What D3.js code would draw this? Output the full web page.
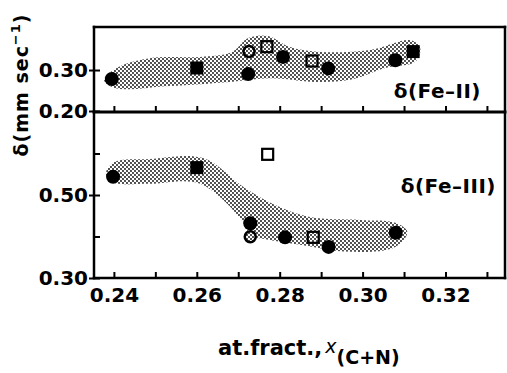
<!DOCTYPE html>
<html>
<head>
<meta charset="utf-8">
<script src="https://cdn.jsdelivr.net/npm/d3@7"></script>
<style>
  html, body { margin: 0; padding: 0; background: #fff; }
  svg { display: block; }
  text { font-family: "DejaVu Sans", sans-serif; font-weight: bold; fill: #000; }
</style>
</head>
<body>
<svg id="chart" width="507" height="373"></svg>
<script>
// Isomer shift of Fe(II) and Fe(III) sites versus interstitial fraction x(C+N)

// x-axis ticks
const xTicks = [0.24, 0.25, 0.26, 0.27, 0.28, 0.29, 0.30, 0.31, 0.32, 0.33];
const xLabelTicks = [0.24, 0.26, 0.28, 0.30, 0.32];

// y-axis ticks per panel
const feIIYTicks = [0.20, 0.30];
const feIIYLabels = [0.20, 0.30];
const feIIIYTicks = [0.30, 0.40, 0.50, 0.60];
const feIIIYLabels = [0.30, 0.50];

// δ(Fe-II) points: composition, shift (mm/s), marker kind
const feIIX = [0.2395, 0.2600, 0.2724, 0.2726, 0.2769, 0.2808, 0.2878, 0.2917, 0.3079, 0.3122];
const feIIY = [0.278, 0.305, 0.290, 0.345, 0.357, 0.332, 0.322, 0.304, 0.324, 0.345];
const feIIKind = ["circle", "square", "circle", "dotCircle", "dotSquare", "circle", "dotSquare", "circle", "circle", "square"];

// δ(Fe-III) points
const feIIIX = [0.2398, 0.2600, 0.2771, 0.2729, 0.2813, 0.2881, 0.2918, 0.3080, 0.2729];
const feIIIY = [0.544, 0.566, 0.598, 0.3995, 0.398, 0.398, 0.375, 0.409, 0.432];
const feIIIKind = ["circle", "square", "openSquare", "dotCircle", "circle", "dotSquare", "circle", "circle", "circle"];

// Shaded trend bands (outline in data units)
const feIIBandX = [0.2376, 0.2410, 0.2487, 0.2608, 0.2685, 0.2724, 0.2772, 0.2825, 0.2898, 0.3018, 0.3115, 0.3139, 0.3127, 0.3055, 0.2970, 0.2886, 0.2777, 0.2680, 0.2535, 0.2402];
const feIIBandY = [0.276, 0.307, 0.329, 0.332, 0.344, 0.378, 0.383, 0.356, 0.344, 0.349, 0.373, 0.354, 0.320, 0.305, 0.276, 0.271, 0.280, 0.271, 0.261, 0.256];

const feIIIBandX = [0.2381, 0.2402, 0.2487, 0.2615, 0.2716, 0.2789, 0.2873, 0.2994, 0.3079, 0.3108, 0.3079, 0.2970, 0.2849, 0.2772, 0.2729, 0.2712, 0.2608, 0.2487, 0.2410, 0.2386];
const feIIIBandY = [0.555, 0.580, 0.587, 0.589, 0.517, 0.476, 0.447, 0.440, 0.433, 0.411, 0.375, 0.363, 0.380, 0.392, 0.404, 0.435, 0.527, 0.527, 0.527, 0.536];

const svg = d3.select("#chart");

const plotLeft = 94, plotRight = 506, plotTop = 27, plotMid = 112, plotBottom = 278;

const x = d3.scaleLinear().domain([0.2352, 0.3346]).range([plotLeft, plotRight]);
const yII = d3.scaleLinear().domain([0.20, 0.405]).range([plotMid - 1, plotTop]);
const yIII = d3.scaleLinear().domain([0.30, 0.70]).range([plotBottom, plotMid]);

// stipple pattern
const defs = svg.append("defs");
const pat = defs.append("pattern")
  .attr("id", "stipple").attr("patternUnits", "userSpaceOnUse")
  .attr("width", 4).attr("height", 4);
pat.append("circle").attr("cx", 1).attr("cy", 1).attr("r", 0.9).attr("fill", "#000");
pat.append("circle").attr("cx", 3).attr("cy", 3).attr("r", 0.9).attr("fill", "#000");

function drawBand(bx, by, yScale) {
  const pts = bx.map((v, i) => [x(v), yScale(by[i])]);
  svg.append("path")
    .attr("d", d3.line().curve(d3.curveCatmullRomClosed.alpha(0.5))(pts))
    .attr("fill", "url(#stipple)")
    .attr("stroke", "none");
}

drawBand(feIIBandX, feIIBandY, yII);
drawBand(feIIIBandX, feIIIBandY, yIII);

function drawPoints(px, py, kinds, yScale) {
  const g = svg.append("g");
  px.forEach((v, i) => {
    const cx = x(v), cy = yScale(py[i]);
    const k = kinds[i];
    if (k === "circle") {
      g.append("circle").attr("cx", cx).attr("cy", cy).attr("r", 7).attr("fill", "#000");
    } else if (k === "square") {
      g.append("rect").attr("x", cx - 6.5).attr("y", cy - 6.5).attr("width", 13).attr("height", 13).attr("fill", "#000");
    } else if (k === "openSquare") {
      g.append("rect").attr("x", cx - 5.5).attr("y", cy - 5.5).attr("width", 11).attr("height", 11)
        .attr("fill", "#fff").attr("stroke", "#000").attr("stroke-width", 2.2);
    } else if (k === "dotSquare") {
      g.append("rect").attr("x", cx - 5.5).attr("y", cy - 5.5).attr("width", 11).attr("height", 11)
        .attr("fill", "#fff").attr("stroke", "none");
      g.append("rect").attr("x", cx - 5.5).attr("y", cy - 5.5).attr("width", 11).attr("height", 11)
        .attr("fill", "url(#stipple)").attr("stroke", "#000").attr("stroke-width", 2.2);
    } else if (k === "dotCircle") {
      g.append("circle").attr("cx", cx).attr("cy", cy).attr("r", 5.5).attr("fill", "#fff");
      g.append("circle").attr("cx", cx).attr("cy", cy).attr("r", 5.5)
        .attr("fill", "url(#stipple)").attr("stroke", "#000").attr("stroke-width", 2.5);
    }
  });
}

drawPoints(feIIX, feIIY, feIIKind, yII);
drawPoints(feIIIX, feIIIY, feIIIKind, yIII);

// x ticks (inward) on the divider and on the bottom axis
function xTickAxis(yPos, withLabels) {
  const ax = d3.axisBottom(x).tickValues(xTicks).tickSizeInner(-6).tickSizeOuter(0).tickFormat("");
  const g = svg.append("g").attr("transform", `translate(0,${yPos})`).call(ax);
  g.select(".domain").remove();
  g.selectAll(".tick line").attr("stroke", "#000").attr("stroke-width", 2);
  if (withLabels) {
    const lab = d3.axisBottom(x).tickValues(xLabelTicks).tickSize(0).tickPadding(10)
      .tickFormat(d3.format(".2f"));
    const lg = svg.append("g").attr("transform", `translate(0,${yPos})`).call(lab);
    lg.select(".domain").remove();
    lg.selectAll(".tick text").attr("font-size", 20).attr("font-family", "DejaVu Sans").attr("font-weight", "bold");
  }
}
xTickAxis(plotMid, false);
xTickAxis(plotBottom, true);

// y ticks: inward minor ticks plus labelled ticks that cross the axis
function yTickAxis(yScale, ticks, labels) {
  const inner = d3.axisLeft(yScale).tickValues(ticks).tickSizeInner(-6).tickSizeOuter(0).tickFormat("");
  const g = svg.append("g").attr("transform", `translate(${plotLeft},0)`).call(inner);
  g.select(".domain").remove();
  g.selectAll(".tick line").attr("stroke", "#000").attr("stroke-width", 2);
  const outer = d3.axisLeft(yScale).tickValues(labels).tickSizeInner(5).tickSizeOuter(0).tickPadding(1)
    .tickFormat(d3.format(".2f"));
  const o = svg.append("g").attr("transform", `translate(${plotLeft},0)`).call(outer);
  o.select(".domain").remove();
  o.selectAll(".tick line").attr("stroke", "#000").attr("stroke-width", 2);
  o.selectAll(".tick text").attr("font-size", 20).attr("font-family", "DejaVu Sans").attr("font-weight", "bold");
}
yTickAxis(yII, feIIYTicks, feIIYLabels);
yTickAxis(yIII, feIIIYTicks, feIIIYLabels);

// frame and panel divider
const frame = svg.append("g").attr("stroke", "#000").attr("fill", "none").attr("stroke-linecap", "square");
frame.append("line").attr("x1", plotLeft).attr("x2", plotRight - 1).attr("y1", plotTop).attr("y2", plotTop).attr("stroke-width", 2.5);
frame.append("line").attr("x1", plotLeft).attr("x2", plotRight - 1).attr("y1", plotMid).attr("y2", plotMid).attr("stroke-width", 3);
frame.append("line").attr("x1", plotLeft).attr("x2", plotRight - 1).attr("y1", plotBottom).attr("y2", plotBottom).attr("stroke-width", 2.5);
frame.append("line").attr("x1", plotLeft).attr("x2", plotLeft).attr("y1", plotTop).attr("y2", plotBottom).attr("stroke-width", 2.5);
frame.append("line").attr("x1", plotRight - 1).attr("x2", plotRight - 1).attr("y1", plotTop).attr("y2", plotBottom).attr("stroke-width", 2.5);

// panel labels
svg.append("text").attr("x", 481).attr("y", 98).attr("text-anchor", "end")
  .attr("font-size", 20).attr("letter-spacing", 0.5).text("δ(Fe–II)");
svg.append("text").attr("x", 496).attr("y", 193).attr("text-anchor", "end")
  .attr("font-size", 20).attr("letter-spacing", 0.5).text("δ(Fe–III)");

// y-axis title
const yt = svg.append("text").attr("transform", "translate(28,85) rotate(-90)")
  .attr("text-anchor", "middle").attr("font-size", 19).attr("letter-spacing", 1);
yt.append("tspan").text("δ(mm sec");
yt.append("tspan").attr("dy", -8).attr("font-size", 13).text("−1");
yt.append("tspan").attr("dy", 8).text(")");

// x-axis title
const xt = svg.append("text").attr("x", 218).attr("y", 355).attr("font-size", 21);
xt.append("tspan").text("at.fract.,");
xt.append("tspan").attr("dx", 3).attr("dy", -2).attr("font-style", "italic").attr("font-weight", "normal").attr("font-size", 19).text("x");
xt.append("tspan").attr("dy", 11).attr("font-size", 19).text("(C+N)");
</script>
</body>
</html>
